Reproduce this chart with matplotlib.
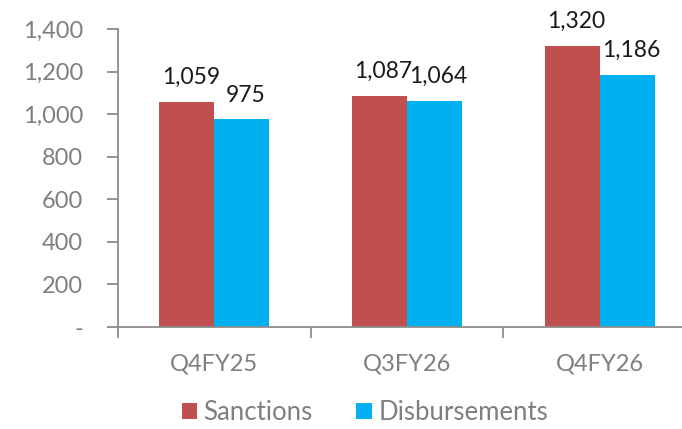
import numpy as np
import matplotlib
matplotlib.use('Agg')
import matplotlib.pyplot as plt
from matplotlib.ticker import FuncFormatter

categories = ['Q4FY25', 'Q3FY26', 'Q4FY26']
sanctions = [1059, 1087, 1320]
disbursements = [975, 1064, 1186]
series_names = ['Sanctions', 'Disbursements']

RED, BLUE = '#C0504D', '#00B0F0'
AXIS_GREY, TEXT_GREY = '#8C8C8C', '#7F7F7F'

plt.rcParams['font.family'] = ['Lato', 'DejaVu Sans']

fig = plt.figure(figsize=(6.82, 4.29), dpi=100)
# axes run a little past the right edge of the figure, like the original
ax = fig.add_axes([118 / 682, 1 - 327 / 429, 578 / 682, (327 - 29) / 429])

x = np.arange(len(categories))
w = 0.286
b1 = ax.bar(x - w / 2, sanctions, w, color=RED, label=series_names[0])
b2 = ax.bar(x + w / 2, disbursements, w, color=BLUE, label=series_names[1])

for bars, vals in ((b1, sanctions), (b2, disbursements)):
    for r, v in zip(bars, vals):
        ax.annotate(f'{v:,}', (r.get_x() + r.get_width() / 2, v),
                    xytext=(3, 10), textcoords='offset points',
                    ha='center', va='bottom', fontsize=16.5, color='#1a1a1a')

ax.set_xlim(-0.5, len(categories) - 0.5)
ax.set_ylim(0, 1400)
ax.set_yticks(range(0, 1401, 200))
ax.yaxis.set_major_formatter(FuncFormatter(lambda v, p: '-' if v == 0 else f'{v:,.0f}'))
ax.set_xticks(np.arange(len(categories) + 1) - 0.5, minor=False)
ax.set_xticklabels([''] * (len(categories) + 1))
ax.set_xticks(x, minor=True)
ax.set_xticklabels(categories, minor=True)

for s in ('top', 'right'):
    ax.spines[s].set_visible(False)
for s in ('left', 'bottom'):
    ax.spines[s].set_color(AXIS_GREY)
    ax.spines[s].set_linewidth(1.3)

ax.tick_params(axis='y', which='major', direction='out', length=8, width=1.3,
               color=AXIS_GREY, labelcolor=TEXT_GREY, labelsize=17, pad=17)
ax.tick_params(axis='x', which='major', direction='out', length=8, width=1.3,
               color=AXIS_GREY)
ax.tick_params(axis='x', which='minor', length=0, labelcolor=TEXT_GREY,
               labelsize=17, pad=19)

leg = fig.legend(loc='lower center', bbox_to_anchor=(0.535, -0.045), ncol=2,
                 frameon=False, fontsize=18.5, handlelength=0.6, handleheight=0.6,
                 handletextpad=0.25, columnspacing=1.7)
for t in leg.get_texts():
    t.set_color(TEXT_GREY)

fig.savefig('out.png', dpi=100)
